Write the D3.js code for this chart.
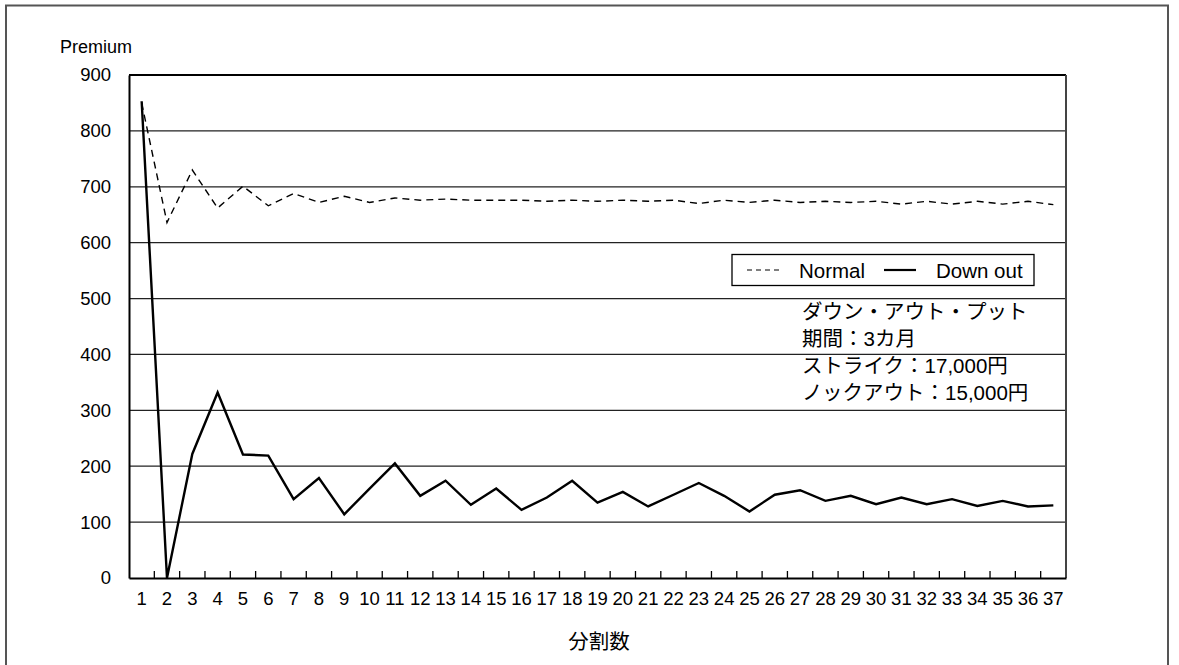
<!DOCTYPE html>
<html>
<head>
<meta charset="utf-8">
<script src="https://cdn.jsdelivr.net/npm/d3@7"></script>
<style>
  html, body { margin: 0; padding: 0; background: #fff; }
  svg { display: block; font-family: "Liberation Sans", Arial, "Noto Sans CJK JP", sans-serif; }
</style>
</head>
<body>
<svg id="chart" width="1179" height="665"></svg>
<script>
const categories = d3.range(1, 38);
const normalValues = [850, 636, 730, 662, 701, 666, 688, 672, 683, 672, 680, 676, 678, 676, 676, 676, 674, 676, 674, 676, 674, 676, 670, 676, 672, 676, 672, 674, 672, 674, 669, 674, 669, 674, 669, 674, 668];
const downOutValues = [853, 0, 222, 332, 221, 219, 141, 179, 114, 160, 205, 147, 174, 131, 160, 122, 144, 174, 135, 154, 128, 149, 170, 147, 119, 149, 157, 138, 147, 132, 144, 132, 141, 129, 138, 128, 130];
const yTicks = [0, 100, 200, 300, 400, 500, 600, 700, 800, 900];
const seriesNames = ["Normal", "Down out"];
const yAxisTitle = "Premium";
const xAxisTitle = "分割数";
const noteLines = ["ダウン・アウト・プット", "期間：3カ月", "ストライク：17,000円", "ノックアウト：15,000円"];

const svg = d3.select("#chart");
const mLeft = 129, mRight = 1066, mTop = 75, mBottom = 578;
const latin = "Liberation Sans, Arial, sans-serif";
const cjk = "Liberation Sans, Noto Sans CJK JP, sans-serif";

const x = d3.scaleBand().domain(categories).range([mLeft, mRight]).padding(0);
const y = d3.scaleLinear().domain([0, 900]).range([mBottom, mTop]);
const cx = d => x(d) + x.bandwidth() / 2;

// outer frame
svg.append("path")
  .attr("d", `M6,668 V5.5 H1168 V668`)
  .attr("fill", "none").attr("stroke", "#555").attr("stroke-width", 2);

// gridlines
svg.append("g").selectAll("line").data(yTicks.filter(t => t > 0 && t < 900)).join("line")
  .attr("x1", mLeft).attr("x2", mRight)
  .attr("y1", d => y(d)).attr("y2", d => y(d))
  .attr("stroke", "#222").attr("stroke-width", 1.3);

// plot frame: top and right
svg.append("line").attr("x1", mLeft).attr("x2", mRight).attr("y1", y(900)).attr("y2", y(900))
  .attr("stroke", "#000").attr("stroke-width", 2.2);
svg.append("line").attr("x1", mRight).attr("x2", mRight).attr("y1", y(900)).attr("y2", y(0))
  .attr("stroke", "#444").attr("stroke-width", 2);

// y axis
const yAxis = d3.axisLeft(y).tickValues(yTicks).tickSize(0).tickPadding(18);
const gy = svg.append("g").attr("transform", `translate(${mLeft},0)`).call(yAxis);
gy.select(".domain").attr("stroke", "#000").attr("stroke-width", 2);
gy.selectAll("text").attr("font-size", 18.5).attr("fill", "#000").attr("font-family", latin);

// x axis
const xAxis = d3.axisBottom(x).tickSize(0).tickPadding(14);
const gx = svg.append("g").attr("transform", `translate(0,${mBottom})`).call(xAxis);
gx.select(".domain").attr("stroke", "#000").attr("stroke-width", 2);
gx.selectAll("text").attr("font-size", 18.5).attr("fill", "#000").attr("font-family", latin);
// inside ticks between categories
svg.append("g").selectAll("line").data(categories.slice(1)).join("line")
  .attr("x1", d => x(d)).attr("x2", d => x(d))
  .attr("y1", mBottom).attr("y2", mBottom - 7)
  .attr("stroke", "#000").attr("stroke-width", 1.3);

// lines
const lineGen = vals => d3.line().x((d, i) => cx(categories[i])).y(d => y(d))(vals);
svg.append("path").attr("d", lineGen(normalValues))
  .attr("fill", "none").attr("stroke", "#000").attr("stroke-width", 1.4)
  .attr("stroke-dasharray", "7,5");
svg.append("path").attr("d", lineGen(downOutValues))
  .attr("fill", "none").attr("stroke", "#000").attr("stroke-width", 2.4)
  .attr("stroke-linejoin", "miter");

// titles
svg.append("text").attr("x", 60).attr("y", 52.5).attr("font-size", 18).attr("font-family", latin).text(yAxisTitle);
svg.append("text").attr("x", 599).attr("y", 649).attr("text-anchor", "middle")
  .attr("font-size", 20.5).attr("font-family", "Noto Sans CJK JP, sans-serif").text(xAxisTitle);

// legend
const lg = svg.append("g");
lg.append("rect").attr("x", 732).attr("y", 254.5).attr("width", 302).attr("height", 31)
  .attr("fill", "#fff").attr("stroke", "#000").attr("stroke-width", 1.3);
lg.append("line").attr("x1", 747).attr("x2", 781).attr("y1", 270).attr("y2", 270)
  .attr("stroke", "#000").attr("stroke-width", 1.2).attr("stroke-dasharray", "5,4");
lg.append("text").attr("x", 799).attr("y", 277.5).attr("font-size", 20.5).attr("font-family", latin).text(seriesNames[0]);
lg.append("line").attr("x1", 884).attr("x2", 916).attr("y1", 270).attr("y2", 270)
  .attr("stroke", "#000").attr("stroke-width", 2.2);
lg.append("text").attr("x", 936).attr("y", 277.5).attr("font-size", 20.5).attr("font-family", latin).text(seriesNames[1]);

// annotation
svg.append("g").selectAll("text").data(noteLines).join("text")
  .attr("x", 802).attr("y", (d, i) => 318.5 + i * 27)
  .attr("font-size", 20.5).attr("font-family", cjk)
  .text(d => d);
</script>
</body>
</html>
